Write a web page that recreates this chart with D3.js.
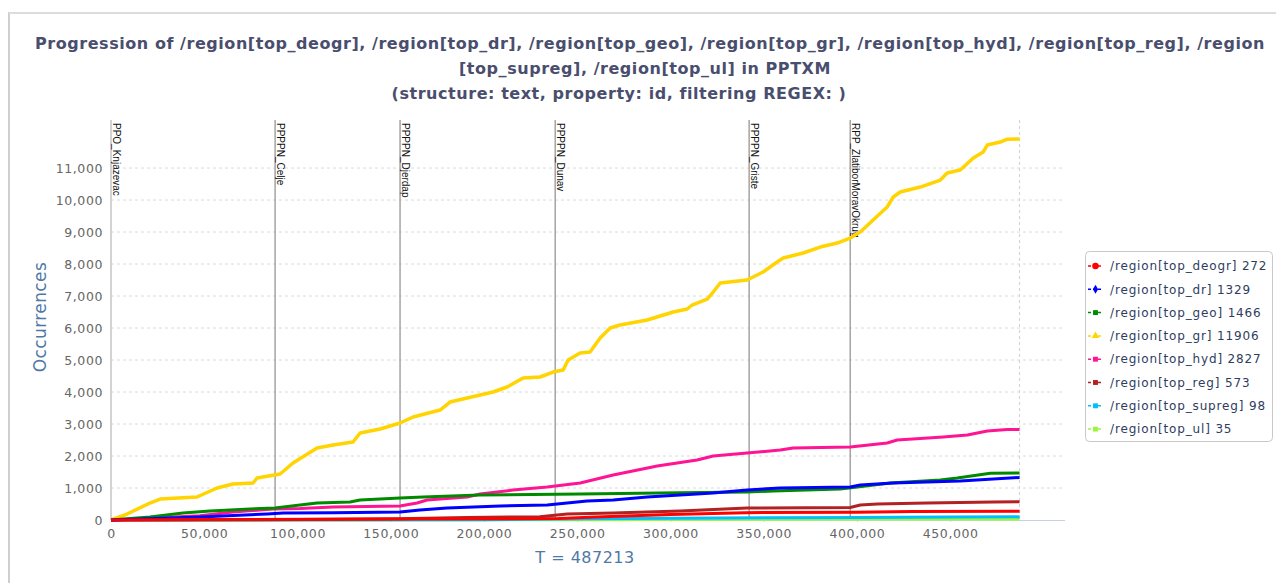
<!DOCTYPE html>
<html>
<head>
<meta charset="utf-8">
<script src="https://cdn.jsdelivr.net/npm/d3@7"></script>
<style>
  body { margin: 0; background: #fff; }
  svg { display: block; }
</style>
</head>
<body>
<div id="chart"></div>
<script>
// series names and final counts (legend)
var seriesNames = ["/region[top_deogr]", "/region[top_dr]", "/region[top_geo]", "/region[top_gr]",
                   "/region[top_hyd]", "/region[top_reg]", "/region[top_supreg]", "/region[top_ul]"];
var seriesTotals = [272, 1329, 1466, 11906, 2827, 573, 98, 35];
var seriesColors = ["#ff0000", "#0000ff", "#008a00", "#ffd400", "#ff1493", "#b22222", "#00bfff", "#9cf53c"];
var seriesShapes = ["circle", "diamond", "square", "triangle", "square", "square", "square", "square"];

var T_MAX = 487213;

// [T, occurrences]
var deogrData = [[0,0],[50000,15],[150000,30],[240000,45],[260000,90],[300000,170],[340000,230],[400000,240],[430000,262],[487213,272]];
var drData = [[0,0],[47700,94],[83700,187],[92300,219],[119100,230],[155000,250],[165700,312],[180200,375],[208700,437],[233900,469],
              [244600,531],[255300,594],[269300,625],[287500,719],[322900,844],[341100,937],[358900,1000],[396400,1031],[401800,1094],
              [419500,1156],[455400,1219],[473100,1281],[487213,1329]];
var geoData = [[0,0],[20900,94],[38600,219],[53100,281],[74600,344],[88000,375],[101400,469],[110500,531],[128200,562],[133600,625],
               [155000,687],[167400,719],[197900,781],[251600,812],[305200,850],[341100,875],[355100,906],[391000,969],[400200,1031],
               [417900,1156],[444700,1250],[453800,1312],[471500,1460],[487213,1466]];
var grData = [[0,0],[7500,156],[20900,531],[26300,656],[46100,719],[56900,1000],[65400,1125],[76200,1156],[78300,1312],[90700,1437],
              [97600,1781],[110500,2250],[119100,2344],[129800,2437],[133600,2719],[144300,2844],[155000,3031],[162000,3219],
              [176500,3437],[181800,3687],[191000,3812],[204900,4000],[212400,4156],[221000,4437],[230100,4469],[237100,4625],
              [242500,4687],[245100,5000],[251600,5219],[256900,5250],[262300,5687],[267700,6000],[273000,6094],[287500,6250],
              [301500,6500],[309000,6594],[311600,6719],[319700,6906],[322900,7125],[326700,7406],[341100,7500],[349700,7750],
              [357200,8062],[360500,8187],[371200,8344],[380300,8531],[389400,8656],[396400,8812],[401800,9000],[408700,9375],
              [416200,9781],[419500,10094],[423200,10250],[434000,10406],[444700,10625],[448400,10844],[455400,10937],
              [462400,11312],[467700,11500],[469900,11719],[476900,11812],[480600,11900],[487213,11906]];
var hydData = [[0,0],[47700,130],[65400,250],[86900,344],[101400,360],[119100,406],[155000,437],[164100,531],[169500,625],
               [191000,719],[197900,812],[215600,937],[233900,1031],[251600,1156],[269300,1406],[292900,1687],[314300,1875],
               [322900,2000],[341100,2094],[358900,2187],[365800,2250],[396400,2281],[416200,2406],[421600,2500],[446300,2594],
               [459200,2656],[469900,2781],[480600,2827],[487213,2827]];
var regData = [[0,0],[101400,15],[155000,40],[191000,80],[230000,100],[244600,190],[269300,219],[305200,281],[341100,375],
               [396400,390],[401800,470],[410900,500],[437700,531],[473100,562],[487213,573]];
var supregData = [[0,0],[200000,5],[255000,40],[300000,55],[350000,70],[400000,80],[450000,90],[487213,98]];
var ulData = [[0,0],[250000,10],[350000,20],[420000,28],[487213,35]];

var seriesData = [deogrData, drData, geoData, grData, hydData, regData, supregData, ulData];

// vertical markers
var markerNames = ["PPO_Knjazevac", "PPPPN_Celje", "PPPPN_Djerdap", "PPPPN_Dunav", "PPPPN_Griste", "RPP_ZlatiborMoravOkrug"];
var markerT = [0, 88000, 155000, 238200, 342200, 396400];

var yTicks = [0, 1000, 2000, 3000, 4000, 5000, 6000, 7000, 8000, 9000, 10000, 11000];
var xTicks = [0, 50000, 100000, 150000, 200000, 250000, 300000, 350000, 400000, 450000];

var titleLines = [
  "Progression of /region[top_deogr], /region[top_dr], /region[top_geo], /region[top_gr], /region[top_hyd], /region[top_reg], /region",
  "[top_supreg], /region[top_ul] in PPTXM",
  "(structure: text, property: id, filtering REGEX: )"
];

var W = 1276, H = 583;
var margin = { top: 120, right: 211, bottom: 63, left: 111 },
    width = W - margin.left - margin.right,
    height = H - margin.top - margin.bottom;

var svg = d3.select("#chart").append("svg")
    .attr("width", W)
    .attr("height", H);

// panel frame
svg.append("line").attr("x1", 9).attr("x2", 9).attr("y1", 12).attr("y2", H)
    .attr("stroke", "#cfcfcf").attr("stroke-width", 2);
svg.append("line").attr("x1", 9).attr("x2", W).attr("y1", 13).attr("y2", 13)
    .attr("stroke", "#dcdcdc").attr("stroke-width", 2);

// title
var titleX = [650, 645, 619];
svg.selectAll(".title")
    .data(titleLines)
    .enter()
    .append("text")
    .attr("class", "title")
    .attr("x", function (d, i) { return titleX[i]; })
    .attr("y", function (d, i) { return 49 + i * 25; })
    .attr("text-anchor", "middle")
    .style("font-family", "'DejaVu Sans', sans-serif")
    .style("font-weight", "bold")
    .style("font-size", "16px")
    .style("letter-spacing", "0.55px")
    .style("fill", "#4a4e6e")
    .text(function (d) { return d; });

var g = svg.append("g")
    .attr("transform", "translate(" + margin.left + "," + margin.top + ")");

var x = d3.scaleLinear()
    .domain([0, T_MAX * 1.05])
    .range([0, width]);

var y = d3.scaleLinear()
    .domain([0, 11906 * 1.05])
    .range([height, 0]);

// horizontal grid
g.selectAll(".grid")
    .data(yTicks.slice(1))
    .enter()
    .append("line")
    .attr("x1", 0).attr("x2", width)
    .attr("y1", function (d) { return y(d); })
    .attr("y2", function (d) { return y(d); })
    .attr("stroke", "#dadada")
    .attr("stroke-dasharray", "3,3");

// end marker (T)
g.append("line")
    .attr("x1", x(T_MAX)).attr("x2", x(T_MAX))
    .attr("y1", 0).attr("y2", height)
    .attr("stroke", "#d0d0d0")
    .attr("stroke-dasharray", "3,3");

// x axis
var xAxis = g.append("g")
    .attr("transform", "translate(0," + height + ")")
    .call(d3.axisBottom(x).tickValues(xTicks).tickSize(2).tickFormat(d3.format(",")));
xAxis.select(".domain").attr("stroke", "#c9d2e0").attr("d", "M0,0.5H" + width);
xAxis.selectAll(".tick line").attr("stroke", "#c9d2e0");
xAxis.selectAll("text")
    .attr("dy", "1.05em")
    .style("font-family", "'DejaVu Sans', sans-serif")
    .style("font-size", "12.5px")
    .style("letter-spacing", "0.6px")
    .style("fill", "#666");

// y axis
var yAxis = g.append("g")
    .call(d3.axisLeft(y).tickValues(yTicks).tickSize(0).tickPadding(8).tickFormat(d3.format(",")));
yAxis.select(".domain").remove();
yAxis.selectAll("text")
    .style("font-family", "'DejaVu Sans', sans-serif")
    .style("font-size", "12.5px")
    .style("letter-spacing", "0.6px")
    .style("fill", "#666");

// marker lines
g.selectAll(".marker")
    .data(markerT)
    .enter()
    .append("line")
    .attr("x1", function (d) { return x(d); })
    .attr("x2", function (d) { return x(d); })
    .attr("y1", 0).attr("y2", height)
    .attr("stroke", function (d, i) { return i === 0 ? "#c4c4c4" : "#a4a4a4"; })
    .attr("stroke-width", 1.5);

g.selectAll(".markerLabel")
    .data(markerNames)
    .enter()
    .append("text")
    .attr("transform", function (d, i) { return "translate(" + (x(markerT[i]) + 2) + ",3) rotate(90)"; })
    .style("font-family", "'Liberation Sans', Arial, sans-serif")
    .style("font-size", "10px")
    .style("fill", "#111")
    .text(function (d) { return d; });

// series lines
var line = d3.line()
    .x(function (d) { return x(d[0]); })
    .y(function (d) { return y(d[1]); });

var order = [7, 6, 5, 4, 3, 2, 1, 0];
g.selectAll(".series")
    .data(order)
    .enter()
    .append("path")
    .attr("fill", "none")
    .attr("stroke", function (i) { return seriesColors[i]; })
    .attr("stroke-width", function (i) { return i === 3 ? 3.5 : 3; })
    .attr("stroke-linejoin", "round")
    .attr("d", function (i) { return line(seriesData[i]); });

// axis titles
svg.append("text")
    .attr("transform", "translate(46,317) rotate(-90)")
    .attr("text-anchor", "middle")
    .style("font-family", "'DejaVu Sans', sans-serif")
    .style("font-size", "17px")
    .style("letter-spacing", "0.4px")
    .style("fill", "#4f78a6")
    .text("Occurrences");

svg.append("text")
    .attr("x", 585)
    .attr("y", 563)
    .attr("text-anchor", "middle")
    .style("font-family", "'DejaVu Sans', sans-serif")
    .style("font-size", "16px")
    .style("letter-spacing", "0.5px")
    .style("fill", "#4f78a6")
    .text("T = " + T_MAX);

// legend
var legend = svg.append("g").attr("transform", "translate(1085,251)");
legend.append("rect")
    .attr("x", 0.5).attr("y", 0.5)
    .attr("width", 187).attr("height", 190)
    .attr("rx", 4)
    .attr("fill", "#fff")
    .attr("stroke", "#c8c8c8");

var item = legend.selectAll(".item")
    .data(seriesNames)
    .enter()
    .append("g")
    .attr("transform", function (d, i) { return "translate(0," + (15 + i * 23.3) + ")"; });

item.append("line")
    .attr("x1", 3).attr("x2", 18)
    .attr("stroke", function (d, i) { return seriesColors[i]; })
    .attr("stroke-width", 1.5)
    .attr("stroke-dasharray", "3,2");

var symbolTypes = { circle: d3.symbolCircle, diamond: d3.symbolDiamond, square: d3.symbolSquare, triangle: d3.symbolTriangle };
item.append("path")
    .attr("transform", "translate(10.5,0)")
    .attr("d", function (d, i) { return d3.symbol().type(symbolTypes[seriesShapes[i]]).size(seriesShapes[i] === "circle" ? 34 : 24)(); })
    .attr("fill", function (d, i) { return seriesColors[i]; });

item.append("text")
    .attr("x", 25)
    .attr("dy", "0.35em")
    .style("font-family", "'DejaVu Sans', sans-serif")
    .style("font-size", "12px")
    .style("letter-spacing", "0.85px")
    .style("fill", "#2e3d5e")
    .text(function (d, i) { return d + " " + seriesTotals[i]; });
</script>
</body>
</html>
